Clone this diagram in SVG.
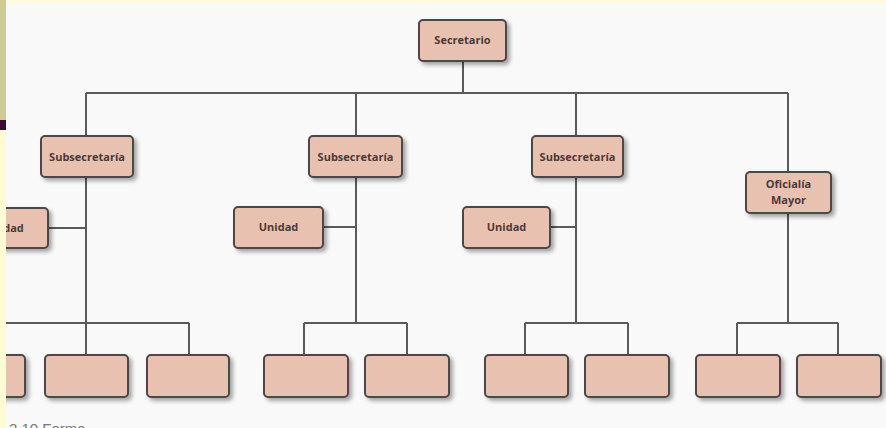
<svg xmlns="http://www.w3.org/2000/svg" width="886" height="428" viewBox="0 0 886 428">
<defs>
<filter id="sh" x="-20%" y="-20%" width="150%" height="160%">
<feGaussianBlur in="SourceAlpha" stdDeviation="2"/>
<feOffset dx="3" dy="3" result="b"/>
<feComponentTransfer><feFuncA type="linear" slope="0.35"/></feComponentTransfer>
<feMerge><feMergeNode/><feMergeNode in="SourceGraphic"/></feMerge>
</filter>
<style>
.box{fill:#e9c1b1;stroke:#4d4646;stroke-width:2;filter:url(#sh)}
.lbl{font-family:"Open Sans","Liberation Sans",sans-serif;font-size:11px;font-weight:bold;fill:#4a3b38;text-anchor:middle}
.ln{stroke:#5a5a5a;stroke-width:2;fill:none}
</style>
</defs>
<rect x="0" y="0" width="886" height="428" fill="#f9f9f9"/>
<rect x="0" y="0" width="886" height="3" fill="#fdfbd8"/>
<rect x="0" y="0" width="6" height="120" fill="#cfcb96"/>
<rect x="0" y="120" width="6" height="10" fill="#3a0a30"/>
<rect x="0" y="130" width="6" height="298" fill="#fdfbd5"/>
<g id="connectors">
<path class="ln" d="M463 61V93M86 93H788M86 93V136M356 93V136M576 93V136M788 93V172"/>
<path class="ln" d="M86 177V323M48 228H86M6 323H189M86 323V355M189 323V355"/>
<path class="ln" d="M356 177V323M323 227H356M304 323H407M304 323V355M407 323V355"/>
<path class="ln" d="M576 177V323M550 227H576M525 323H628M525 323V355M628 323V355"/>
<path class="ln" d="M788 213V323M737 323H838M737 323V355M838 323V355"/>
</g>
<g id="secretario"><rect class="box" x="419" y="20" width="87" height="41" rx="4"/><text class="lbl" x="462.5" y="44">Secretario</text></g>
<g id="subsec1"><rect class="box" x="41" y="136" width="92" height="41" rx="4"/><text class="lbl" x="87" y="161">Subsecretaría</text></g>
<g id="subsec2"><rect class="box" x="309" y="136" width="93" height="41" rx="4"/><text class="lbl" x="355.5" y="161">Subsecretaría</text></g>
<g id="subsec3"><rect class="box" x="532" y="136" width="91" height="41" rx="4"/><text class="lbl" x="577.5" y="161">Subsecretaría</text></g>
<g id="oficialia"><rect class="box" x="746" y="172" width="85" height="41" rx="4"/><text class="lbl" x="788.5" y="188">Oficialía</text><text class="lbl" x="788.5" y="204">Mayor</text></g>
<g id="unidad1"><rect class="box" x="-40" y="208" width="88" height="40" rx="4"/><text class="lbl" x="4" y="232">Unidad</text></g>
<g id="unidad2"><rect class="box" x="234" y="207" width="89" height="41" rx="4"/><text class="lbl" x="278.5" y="231">Unidad</text></g>
<g id="unidad3"><rect class="box" x="463" y="207" width="87" height="41" rx="4"/><text class="lbl" x="506.5" y="231">Unidad</text></g>
<g id="b1"><rect class="box" x="-60" y="355" width="85" height="42" rx="4"/></g>
<g id="b2"><rect class="box" x="45" y="355" width="83" height="42" rx="4"/></g>
<g id="b3"><rect class="box" x="147" y="355" width="82" height="42" rx="4"/></g>
<g id="b4"><rect class="box" x="264" y="355" width="84" height="42" rx="4"/></g>
<g id="b5"><rect class="box" x="365" y="355" width="84" height="42" rx="4"/></g>
<g id="b6"><rect class="box" x="485" y="355" width="83" height="42" rx="4"/></g>
<g id="b7"><rect class="box" x="585" y="355" width="84" height="42" rx="4"/></g>
<g id="b8"><rect class="box" x="696" y="355" width="84" height="42" rx="4"/></g>
<g id="b9"><rect class="box" x="797" y="355" width="84" height="42" rx="4"/></g>
<rect x="0" y="130" width="6" height="298" fill="#fdfbd5"/>
<text x="9" y="434" font-family="'Liberation Sans',sans-serif" font-size="15" fill="#777">2.10   Forma</text>
</svg>
